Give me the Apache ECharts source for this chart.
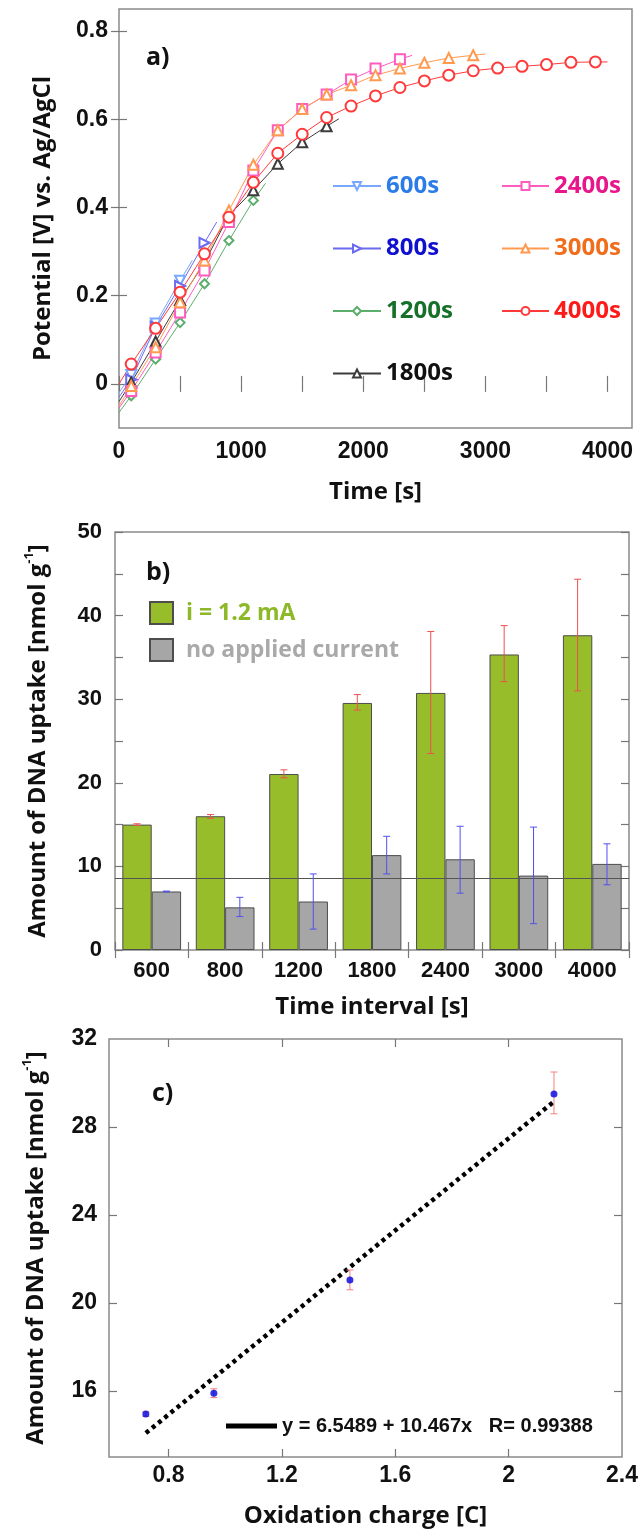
<!DOCTYPE html>
<html>
<head>
<meta charset="utf-8">
<script src="https://cdn.jsdelivr.net/npm/echarts@6/dist/echarts.min.js"></script>
<style>
  html, body { margin: 0; padding: 0; background: #fff; }
  #chart { width: 642px; height: 1530px; }
</style>
</head>
<body>
<div id="chart"></div>
<script>
// a) potential vs time, [time s, potential V]
const pot600 = [[0, -0.02], [100, 0.02], [300, 0.137], [500, 0.234], [600, 0.28]];
const pot800 = [[0, -0.03], [100, 0.01], [300, 0.13], [500, 0.222], [700, 0.32], [800, 0.367]];
const pot1200 = [[0, -0.065], [100, -0.027], [300, 0.056], [500, 0.139], [700, 0.227], [900, 0.325], [1100, 0.416], [1200, 0.455]];
const pot1800 = [[0, -0.04], [100, 0.003], [300, 0.096], [500, 0.19], [700, 0.275], [900, 0.382], [1100, 0.439], [1300, 0.499], [1500, 0.548], [1700, 0.584], [1800, 0.601]];
const pot2400 = [[0, -0.055], [100, -0.016], [300, 0.071], [500, 0.162], [700, 0.257], [900, 0.367], [1100, 0.484], [1300, 0.575], [1500, 0.623], [1700, 0.656], [1900, 0.69], [2100, 0.715], [2300, 0.736], [2400, 0.745]];
const pot3000 = [[0, -0.05], [100, -0.005], [300, 0.083], [500, 0.185], [700, 0.28], [900, 0.393], [1100, 0.497], [1300, 0.575], [1500, 0.623], [1700, 0.656], [1900, 0.677], [2100, 0.7], [2300, 0.715], [2500, 0.728], [2700, 0.739], [2900, 0.745], [3000, 0.748]];
const pot4000 = [[0, 0.0], [100, 0.045], [300, 0.126], [500, 0.208], [700, 0.295], [900, 0.378], [1100, 0.457], [1300, 0.523], [1500, 0.566], [1700, 0.604], [1900, 0.63], [2100, 0.653], [2300, 0.672], [2500, 0.687], [2700, 0.7], [2900, 0.71], [3100, 0.716], [3300, 0.72], [3500, 0.724], [3700, 0.729], [3900, 0.73], [4000, 0.73]];
const timeTicks = [0, 500, 1000, 1500, 2000, 2500, 3000, 3500, 4000];
const timeLabels = [0, 1000, 2000, 3000, 4000];
const potTicks = [0, 0.2, 0.4, 0.6, 0.8];

// b) DNA uptake per time interval
const intervals = ['600', '800', '1200', '1800', '2400', '3000', '4000'];
const uptakeCurrent = [15.0, 16.0, 21.05, 29.55, 30.75, 35.35, 37.65];
const currentHi = [15.1, 16.2, 21.55, 30.55, 38.1, 38.8, 44.35];
const currentLo = [14.9, 15.75, 20.6, 28.7, 23.5, 32.1, 31.0];
const uptakeNoCurrent = [7.0, 5.1, 5.8, 11.35, 10.85, 8.9, 10.3];
const noCurrentHi = [7.05, 6.3, 9.1, 13.6, 14.8, 14.7, 12.7];
const noCurrentLo = [6.95, 4.0, 2.5, 9.1, 6.8, 3.15, 7.8];
const controlLevel = 8.6;
const uptakeLabels = [0, 10, 20, 30, 40, 50];

// c) uptake vs oxidation charge
const charge = [0.72, 0.96, 1.44, 2.16];
const uptakeByCharge = [14.95, 15.9, 21.05, 29.5];
const chargeHi = [15.05, 16.1, 21.5, 30.5];
const chargeLo = [14.85, 15.7, 20.6, 28.6];
const fitLine = [[0.72, 14.09], [2.16, 29.16]];
const fitName = 'y = 6.5489 + 10.467x   R= 0.99388';
const chargeTicks = [0.8, 1.2, 1.6, 2];
const chargeLabels = [0.8, 1.2, 1.6, 2, 2.4];
const c_uptakeTicks = [16, 20, 24, 28];
const c_uptakeLabels = [16, 20, 24, 28, 32];

const curves = [
  { name: '600s', data: pot600, line: '#78a8ff', text: '#2b7be8', symbol: 'emptyTriangle', rotate: 180, size: 10 },
  { name: '800s', data: pot800, line: '#6b6bf0', text: '#1010d0', symbol: 'emptyTriangle', rotate: -90, size: 10 },
  { name: '1200s', data: pot1200, line: '#5cae6c', text: '#16702a', symbol: 'emptyDiamond', rotate: 0, size: 9 },
  { name: '1800s', data: pot1800, line: '#3c3c3c', text: '#111111', symbol: 'emptyTriangle', rotate: 0, size: 10 },
  { name: '2400s', data: pot2400, line: '#ff5cc0', text: '#e8168a', symbol: 'emptyRect', rotate: 0, size: 10 },
  { name: '3000s', data: pot3000, line: '#ff9a50', text: '#f06d1c', symbol: 'emptyTriangle', rotate: 0, size: 10 },
  { name: '4000s', data: pot4000, line: '#ff3a3a', text: '#ff1a1a', symbol: 'emptyCircle', rotate: 0, size: 11 }
];

const tickFont = { fontFamily: 'Liberation Sans', fontWeight: 'bold', fontSize: 23, color: '#111' };
const nameFont = { fontFamily: 'Open Sans', fontWeight: 'bold', fontSize: 24, color: '#111' };
const frameColor = '#8a8a8a';
const plain = v => String(v);

function tickAxis(extra) {
  return Object.assign({
    axisLine: { show: false },
    axisTick: { show: true, inside: true, length: 8, lineStyle: { color: '#777', width: 1.2 } },
    splitLine: { show: false }
  }, extra);
}

function errorBars(offset, cap, color) {
  return function (params, api) {
    const x = api.value(0);
    const hi = api.coord([x, api.value(1)]);
    const lo = api.coord([x, api.value(2)]);
    const cx = hi[0] + (offset ? api.size([1, 0])[0] * offset : 0);
    const style = { stroke: color, lineWidth: 1 };
    return {
      type: 'group',
      children: [
        { type: 'line', shape: { x1: cx, y1: hi[1], x2: cx, y2: lo[1] }, style: style },
        { type: 'line', shape: { x1: cx - cap, y1: hi[1], x2: cx + cap, y2: hi[1] }, style: style },
        { type: 'line', shape: { x1: cx - cap, y1: lo[1], x2: cx + cap, y2: lo[1] }, style: style }
      ]
    };
  };
}

const supName = {
  formatter: '{n|Amount of DNA uptake [nmol g}{s|-1}{n|]}',
  rich: {
    n: { fontFamily: 'Open Sans', fontWeight: 'bold', fontSize: 24, color: '#111', lineHeight: 30 },
    s: { fontFamily: 'Open Sans', fontWeight: 'bold', fontSize: 13, color: '#111', verticalAlign: 'top', lineHeight: 14 }
  }
};

const chart = echarts.init(document.getElementById('chart'));

const series = curves.map(c => ({
  type: 'line',
  name: c.name,
  xAxisIndex: 0,
  yAxisIndex: 0,
  data: c.data.map(p => ({ value: p, symbol: (p[0] - 100) % 200 === 0 ? c.symbol : 'none' })),
  symbol: c.symbol,
  symbolSize: c.size,
  symbolRotate: c.rotate,
  showAllSymbol: true,
  lineStyle: { color: c.line, width: 1 },
  itemStyle: { color: c.line, borderWidth: 0.8 }
}));

series.push(
  {
    type: 'bar', name: 'i = 1.2 mA', xAxisIndex: 2, yAxisIndex: 2,
    data: uptakeCurrent, barGap: 0, barCategoryGap: '20%',
    itemStyle: { color: '#97bd2b', borderColor: '#4d4d4d', borderWidth: 1 }
  },
  {
    type: 'bar', name: 'no applied current', xAxisIndex: 2, yAxisIndex: 2,
    data: uptakeNoCurrent, barGap: 0, barCategoryGap: '20%',
    itemStyle: { color: '#a6a6a6', borderColor: '#4d4d4d', borderWidth: 1 },
    markLine: {
      silent: true, symbol: 'none', label: { show: false },
      lineStyle: { color: '#555', type: 'solid', width: 1 },
      data: [{ yAxis: controlLevel }]
    }
  },
  {
    type: 'custom', xAxisIndex: 2, yAxisIndex: 2, z: 5,
    renderItem: errorBars(-0.2, 3.5, '#ee5050'),
    data: intervals.map((_, i) => [i, currentHi[i], currentLo[i]])
  },
  {
    type: 'custom', xAxisIndex: 2, yAxisIndex: 2, z: 5,
    renderItem: errorBars(0.2, 3.5, '#5050ee'),
    data: intervals.map((_, i) => [i, noCurrentHi[i], noCurrentLo[i]])
  },
  {
    type: 'line', name: fitName, xAxisIndex: 4, yAxisIndex: 4,
    data: fitLine, symbol: 'none',
    itemStyle: { color: '#000' },
    lineStyle: { color: '#000', width: 4.5, type: [4, 4] }
  },
  {
    type: 'custom', xAxisIndex: 4, yAxisIndex: 4, z: 5,
    renderItem: errorBars(0, 3.5, '#f08080'),
    data: charge.map((x, i) => [x, chargeHi[i], chargeLo[i]])
  },
  {
    type: 'scatter', xAxisIndex: 4, yAxisIndex: 4, z: 6,
    data: charge.map((x, i) => [x, uptakeByCharge[i]]),
    symbolSize: 7, itemStyle: { color: '#0000dd' }
  }
);

const option = {
  animation: false,
  backgroundColor: '#fff',
  title: [
    { text: 'a)', left: 141, top: 40, textStyle: { fontFamily: 'Open Sans', fontWeight: 'bold', fontSize: 25, color: '#111' } },
    { text: 'b)', left: 141, top: 555, textStyle: { fontFamily: 'Open Sans', fontWeight: 'bold', fontSize: 25, color: '#111' } },
    { text: 'c)', left: 147, top: 1076, textStyle: { fontFamily: 'Open Sans', fontWeight: 'bold', fontSize: 25, color: '#111' } }
  ],
  legend: [
    {
      left: 327, top: 168, orient: 'vertical', itemWidth: 48, itemHeight: 10, itemGap: 36.5,
      textStyle: { fontFamily: 'Open Sans', fontWeight: 'bold', fontSize: 24, lineHeight: 26 },
      data: curves.slice(0, 4).map(c => ({ name: c.name, textStyle: { color: c.text } }))
    },
    {
      left: 496, top: 168, orient: 'vertical', itemWidth: 47, itemHeight: 10, itemGap: 36.5,
      textStyle: { fontFamily: 'Open Sans', fontWeight: 'bold', fontSize: 24, lineHeight: 26 },
      data: curves.slice(4).map(c => ({ name: c.name, textStyle: { color: c.text } }))
    },
    {
      left: 144, top: 595, orient: 'vertical', itemWidth: 23, itemHeight: 22, itemGap: 11, icon: 'rect',
      textStyle: { fontFamily: 'Open Sans', fontWeight: 'bold', fontSize: 23, lineHeight: 26, padding: [0, 0, 0, 8] },
      data: [
        { name: 'i = 1.2 mA', textStyle: { color: '#8db828' } },
        { name: 'no applied current', textStyle: { color: '#a9a9a9' } }
      ]
    },
    {
      left: 221, top: 1409, itemWidth: 51, itemHeight: 5, icon: 'rect',
      itemStyle: { color: '#000' },
      textStyle: { fontFamily: 'Liberation Sans', fontWeight: 'bold', fontSize: 20, color: '#111', lineHeight: 24 },
      data: [fitName]
    }
  ],
  grid: [
    { left: 119, top: 9, width: 513, height: 419, show: true, borderColor: frameColor, borderWidth: 1.5 },
    { left: 115, top: 532, width: 514, height: 418, show: true, borderColor: frameColor, borderWidth: 1.5 },
    { left: 109, top: 1039, width: 513, height: 418, show: true, borderColor: frameColor, borderWidth: 1.5 }
  ],
  xAxis: [
    tickAxis({
      type: 'value', gridIndex: 0, min: 0, max: 4200,
      axisTick: { show: true, inside: true, length: 8, customValues: timeTicks, lineStyle: { color: '#777', width: 1.2 } },
      axisLabel: Object.assign({ customValues: timeLabels, margin: 12, formatter: plain }, tickFont),
      name: 'Time [s]', nameLocation: 'middle', nameGap: 52, nameTextStyle: nameFont
    }),
    tickAxis({
      type: 'value', gridIndex: 0, min: 0, max: 4200, position: 'top',
      axisTick: { show: true, inside: true, length: 8, customValues: timeTicks, lineStyle: { color: '#777', width: 1.2 } },
      axisLabel: { show: false }
    }),
    tickAxis({
      type: 'category', gridIndex: 1, data: intervals,
      axisLabel: Object.assign({ margin: 10 }, tickFont, { fontSize: 22 }),
      name: 'Time interval [s]', nameLocation: 'middle', nameGap: 45, nameTextStyle: nameFont
    }),
    tickAxis({
      type: 'category', gridIndex: 1, data: intervals, position: 'top',
      axisLabel: { show: false }
    }),
    tickAxis({
      type: 'value', gridIndex: 2, min: 0.59, max: 2.4,
      axisTick: { show: true, inside: true, length: 8, customValues: chargeTicks, lineStyle: { color: '#777', width: 1.2 } },
      axisLabel: Object.assign({ customValues: chargeLabels, margin: 7, formatter: plain }, tickFont),
      name: 'Oxidation charge [C]', nameLocation: 'middle', nameGap: 47, nameTextStyle: nameFont
    }),
    tickAxis({
      type: 'value', gridIndex: 2, min: 0.59, max: 2.4, position: 'top',
      axisTick: { show: true, inside: true, length: 8, customValues: chargeTicks, lineStyle: { color: '#777', width: 1.2 } },
      axisLabel: { show: false }
    })
  ],
  yAxis: [
    tickAxis({
      type: 'value', gridIndex: 0, min: -0.1, max: 0.85,
      axisTick: { show: true, inside: true, length: 8, customValues: potTicks, lineStyle: { color: '#777', width: 1.2 } },
      axisLabel: Object.assign({ customValues: potTicks, margin: 11, formatter: plain }, tickFont),
      name: 'Potential [V] vs. Ag/AgCl', nameLocation: 'middle', nameGap: 64, nameTextStyle: nameFont
    }),
    tickAxis({
      type: 'value', gridIndex: 0, min: -0.1, max: 0.85, position: 'right',
      axisTick: { show: true, inside: true, length: 8, customValues: potTicks, lineStyle: { color: '#777', width: 1.2 } },
      axisLabel: { show: false }
    }),
    tickAxis({
      type: 'value', gridIndex: 1, min: 0, max: 50, interval: 5,
      axisLabel: Object.assign({ customValues: uptakeLabels, margin: 13, formatter: plain }, tickFont, { fontSize: 22 }),
      name: supName.formatter, nameLocation: 'middle', nameGap: 62,
      nameTextStyle: { rich: supName.rich }
    }),
    tickAxis({
      type: 'value', gridIndex: 1, min: 0, max: 50, interval: 5, position: 'right',
      axisLabel: { show: false }
    }),
    tickAxis({
      type: 'value', gridIndex: 2, min: 13, max: 32,
      axisTick: { show: true, inside: true, length: 8, customValues: c_uptakeTicks, lineStyle: { color: '#777', width: 1.2 } },
      axisLabel: Object.assign({ customValues: c_uptakeLabels, margin: 12, formatter: plain }, tickFont),
      name: supName.formatter, nameLocation: 'middle', nameGap: 58,
      nameTextStyle: { rich: supName.rich }
    }),
    tickAxis({
      type: 'value', gridIndex: 2, min: 13, max: 32, position: 'right',
      axisTick: { show: true, inside: true, length: 8, customValues: c_uptakeTicks, lineStyle: { color: '#777', width: 1.2 } },
      axisLabel: { show: false }
    })
  ],
  series: series
};

chart.setOption(option);
</script>
</body>
</html>
